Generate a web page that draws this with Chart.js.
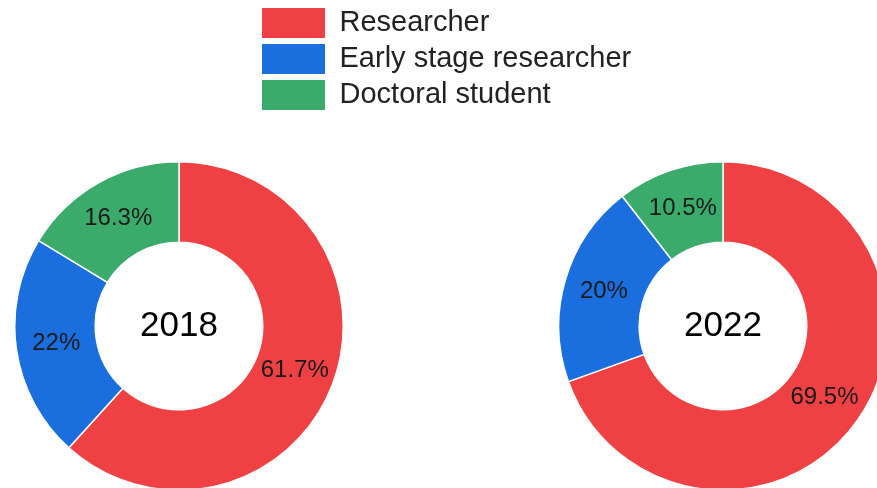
<!DOCTYPE html>
<html>
<head>
<meta charset="utf-8">
<script src="https://cdn.jsdelivr.net/npm/chart.js@4"></script>
<style>
  html, body { margin: 0; padding: 0; width: 877px; height: 488px; overflow: hidden; background: #ffffff; }
  canvas { position: absolute; }
  #legendCanvas { left: 256px; top: 2px; }
  #c2018 { left: 14px; top: 161px; }
  #c2022 { left: 558px; top: 161px; }
</style>
</head>
<body>
<canvas id="legendCanvas" width="800" height="120"></canvas>
<canvas id="c2018" width="330" height="330"></canvas>
<canvas id="c2022" width="330" height="330"></canvas>
<script>
// ---- data ----
const categories = ['Researcher', 'Early stage researcher', 'Doctoral student'];
const years = ['2018', '2022'];
const values2018 = [61.7, 22, 16.3];
const values2022 = [69.5, 20, 10.5];
const colors = ['#EF4143', '#1A6EDD', '#3AAB6B'];

const FONT = '"Liberation Sans", Arial, sans-serif';

const sliceLabels = {
  id: 'sliceLabels',
  afterDatasetsDraw(chart, args, opts) {
    const ctx = chart.ctx;
    const meta = chart.getDatasetMeta(0);
    const data = chart.data.datasets[0].data;
    ctx.save();
    ctx.textAlign = 'center';
    ctx.textBaseline = 'middle';
    ctx.fillStyle = '#1a1a1a';
    ctx.font = '24px ' + FONT;
    meta.data.forEach((arc, i) => {
      const p = arc.tooltipPosition(true);
      ctx.fillText(data[i] + '%', p.x, p.y);
    });
    const a = meta.data[0];
    ctx.fillStyle = '#000000';
    ctx.font = '35px ' + FONT;
    ctx.fillText(opts.text, a.x, a.y);
    ctx.restore();
  }
};

function makeDonut(id, values, year) {
  return new Chart(document.getElementById(id), {
    type: 'doughnut',
    data: {
      labels: categories,
      datasets: [{
        data: values,
        backgroundColor: colors,
        borderColor: '#ffffff',
        borderWidth: 1.5,
        hoverOffset: 0
      }]
    },
    options: {
      responsive: false,
      animation: false,
      cutout: '51%',
      layout: { padding: 0 },
      events: [],
      plugins: {
        legend: { display: false },
        tooltip: { enabled: false },
        sliceLabels: { text: year }
      }
    },
    plugins: [sliceLabels]
  });
}

makeDonut('c2018', values2018, years[0]);
makeDonut('c2022', values2022, years[1]);

// legend only chart
new Chart(document.getElementById('legendCanvas'), {
  type: 'doughnut',
  data: {
    labels: categories,
    datasets: [{ data: values2018, backgroundColor: colors, borderWidth: 0 }]
  },
  options: {
    responsive: false,
    animation: false,
    radius: 0,
    events: [],
    plugins: {
      tooltip: { enabled: false },
      legend: {
        position: 'left',
        align: 'start',
        labels: {
          boxWidth: 63,
          boxHeight: 30,
          padding: 6,
          color: '#222222',
          font: { size: 29, family: FONT }
        }
      }
    }
  }
});
</script>
</body>
</html>
